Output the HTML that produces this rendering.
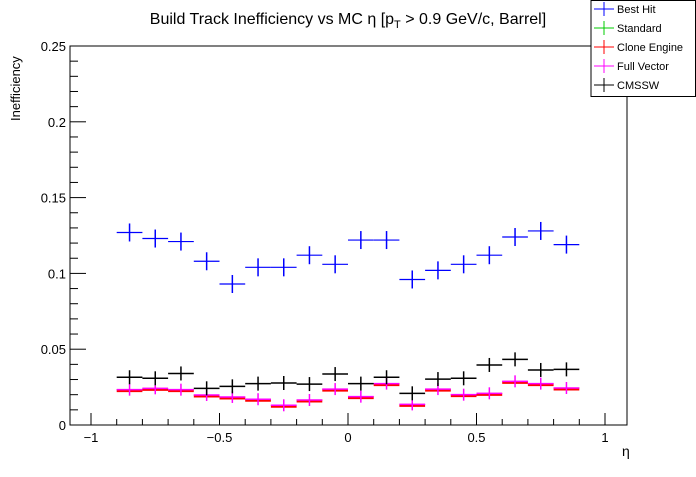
<!DOCTYPE html>
<html><head><meta charset="utf-8"><style>
body{margin:0;background:#fff;font-family:"Liberation Sans",sans-serif}
svg text{font-family:"Liberation Sans","DejaVu Sans",sans-serif}
</style></head><body>
<svg id="c" width="696" height="472" xmlns="http://www.w3.org/2000/svg">
<rect width="696" height="472" fill="#fff"/>
<text x="348" y="24" font-size="16" text-anchor="middle">Build Track Inefficiency vs MC η [p<tspan font-size="11" dy="4">T</tspan><tspan dy="-4"> &gt; 0.9 GeV/c, Barrel]</tspan></text>
<rect x="70" y="46" width="557" height="379" fill="none" stroke="#000"/>
<g id="axes"></g>
<g id="marks"></g>
<text x="20" y="121" font-size="13" transform="rotate(-90 20 121)">Inefficiency</text>
<text x="622" y="456" font-size="14">η</text>
<g>
<rect x="591" y="0.5" width="104.5" height="96" fill="#fff" stroke="#000"/>
<g id="leg"></g>
</g>
</svg>
<script>
const bins=[-0.85,-0.75,-0.65,-0.55,-0.45,-0.35,-0.25,-0.15,-0.05,0.05,0.15,0.25,0.35,0.45,0.55,0.65,0.75,0.85];
const bestHit=[0.127,0.123,0.121,0.108,0.093,0.104,0.104,0.112,0.106,0.122,0.122,0.096,0.102,0.106,0.112,0.124,0.128,0.119];
const cmssw=[0.0315,0.0308,0.034,0.0242,0.0255,0.0273,0.0277,0.027,0.0336,0.0273,0.0315,0.0209,0.0303,0.0308,0.0396,0.0433,0.0363,0.0367];
const fullVector=[0.0233,0.0242,0.0233,0.0198,0.0185,0.017,0.013,0.0165,0.0237,0.0187,0.0273,0.0136,0.0237,0.02,0.0209,0.0288,0.0273,0.0244];
const cloneEngine=[0.0233,0.0242,0.0233,0.0198,0.0185,0.017,0.013,0.0165,0.0237,0.0187,0.0273,0.0136,0.0237,0.02,0.0209,0.0288,0.0273,0.0244];
const xTicks=[-1,-0.5,0,0.5,1];
const xTickLabels=["−1","−0.5","0","0.5","1"];
const yTicks=[0,0.05,0.1,0.15,0.2,0.25];
const yTickLabels=["0","0.05","0.1","0.15","0.2","0.25"];
const legendNames=["Best Hit","Standard","Clone Engine","Full Vector","CMSSW"];
const legendColors=["#0000ff","#00cc00","#ff0000","#ff00ff","#000000"];
const NS="http://www.w3.org/2000/svg";
const X=v=>348+v*257, Y=v=>425-v*1516;
function mk(p,t,a){const e=document.createElementNS(NS,t);for(const k in a)e.setAttribute(k,a[k]);p.appendChild(e);return e;}
const ax=document.getElementById('axes');
for(let i=-10;i<=10;i++){const v=i/10,maj=i%5===0;const e=mk(ax,'line',{x1:X(v),x2:X(v),y1:425,y2:425-(maj?12:6),stroke:'#000'});

}
xTicks.forEach((v,i)=>{const t=mk(ax,'text',{x:X(v),y:442,'font-size':13,'text-anchor':'middle'});t.textContent=xTickLabels[i];

});
for(let i=0;i<=25;i++){const v=i/100,maj=i%5===0;const e=mk(ax,'line',{x1:70,x2:70+(maj?16:8),y1:Y(v),y2:Y(v),stroke:'#000'});

}
yTicks.forEach((v,i)=>{const t=mk(ax,'text',{x:66,y:Y(v)+5,'font-size':13,'text-anchor':'end'});t.textContent=yTickLabels[i];

});
const mg=document.getElementById('marks');
function series(vals,color,err,w,dy,name){vals.forEach((v,i)=>{const g=mk(mg,'g',{stroke:color,'stroke-width':w});


const cx=X(bins[i]),cy=Y(v)+dy;
mk(g,'line',{x1:X(bins[i]-0.05),x2:X(bins[i]+0.05),y1:cy,y2:cy});
if(err)mk(g,'line',{x1:cx,x2:cx,y1:cy-err,y2:cy+err,'stroke-width':1.5});});}
series(cloneEngine,'#ff0000',0,3,1,'clone-engine');
series(fullVector,'#ff00ff',6,1.5,0,'full-vector');
series(cmssw,'#000000',7,1.5,0,'cmssw');
series(bestHit,'#0000ff',9,1.2,0,'best-hit');
const lg=document.getElementById('leg');
legendNames.forEach((n,i)=>{const y=9+i*19;const g=mk(lg,'g',{});


mk(g,'line',{x1:594,x2:614,y1:y,y2:y,stroke:legendColors[i]});
mk(g,'line',{x1:604,x2:604,y1:y-7,y2:y+7,stroke:legendColors[i]});
const t=mk(g,'text',{x:617,y:y+4,'font-size':11});t.textContent=n;});
</script>
</body></html>
